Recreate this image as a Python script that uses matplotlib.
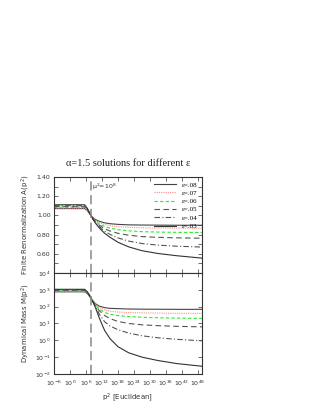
import numpy as np
import matplotlib
matplotlib.use('Agg')
import matplotlib.pyplot as plt
from matplotlib.ticker import FixedLocator, FuncFormatter, NullFormatter

# log10(p^2) sample points
log_p2 = [-6, 0, 4, 5.5, 6.5, 7.5, 8.5, 9.5, 11, 13, 15, 18, 22, 27, 33, 40, 49.5]

eps_labels = ['\u03b5=.08', '\u03b5=.07', '\u03b5=.06', '\u03b5=.05', '\u03b5=.04', '\u03b5=.03']

# A(p^2) for each epsilon
A_08 = [1.07, 1.07, 1.07, 1.07, 1.05, 1.01, 0.98, 0.957, 0.938, 0.922, 0.913, 0.906, 0.901, 0.899, 0.898, 0.897, 0.897]
A_07 = [1.075, 1.075, 1.075, 1.075, 1.052, 1.012, 0.977, 0.95, 0.925, 0.905, 0.893, 0.882, 0.875, 0.871, 0.868, 0.867, 0.866]
A_06 = [1.085, 1.085, 1.085, 1.085, 1.057, 1.013, 0.974, 0.942, 0.91, 0.883, 0.866, 0.851, 0.839, 0.83, 0.826, 0.823, 0.822]
A_05 = [1.09, 1.09, 1.09, 1.09, 1.062, 1.015, 0.97, 0.935, 0.897, 0.86, 0.837, 0.813, 0.793, 0.779, 0.771, 0.766, 0.762]
A_04 = [1.10, 1.10, 1.10, 1.10, 1.067, 1.017, 0.967, 0.928, 0.882, 0.835, 0.802, 0.765, 0.732, 0.707, 0.69, 0.679, 0.67]
A_03 = [1.11, 1.11, 1.11, 1.11, 1.072, 1.018, 0.963, 0.92, 0.868, 0.813, 0.772, 0.72, 0.672, 0.632, 0.603, 0.58, 0.555]

# log10 M(p^2) for each epsilon
logM_08 = [2.88, 2.88, 2.88, 2.88, 2.78, 2.58, 2.36, 2.18, 2.03, 1.94, 1.90, 1.88, 1.86, 1.85, 1.845, 1.84, 1.84]
logM_07 = [2.91, 2.91, 2.91, 2.91, 2.80, 2.59, 2.35, 2.14, 1.95, 1.80, 1.73, 1.68, 1.65, 1.63, 1.615, 1.605, 1.60]
logM_06 = [2.94, 2.94, 2.94, 2.94, 2.82, 2.60, 2.34, 2.10, 1.86, 1.65, 1.55, 1.47, 1.41, 1.37, 1.34, 1.32, 1.30]
logM_05 = [2.97, 2.97, 2.97, 2.97, 2.84, 2.61, 2.33, 2.06, 1.76, 1.47, 1.29, 1.12, 1.00, 0.92, 0.87, 0.83, 0.80]
logM_04 = [3.00, 3.00, 3.00, 3.00, 2.86, 2.62, 2.32, 2.01, 1.55, 1.10, 0.85, 0.63, 0.43, 0.27, 0.15, 0.06, -0.03]
logM_03 = [3.03, 3.03, 3.03, 3.03, 2.88, 2.63, 2.31, 1.96, 1.32, 0.58, 0.10, -0.38, -0.74, -1.00, -1.20, -1.38, -1.54]

A_all = [A_08, A_07, A_06, A_05, A_04, A_03]
M_all = [logM_08, logM_07, logM_06, logM_05, logM_04, logM_03]

styles = [
    dict(color='#444444', ls='-'),
    dict(color='#ff8c8c', ls=(0, (1, 1))),
    dict(color='#22f022', ls=(0, (3, 2))),
    dict(color='#555555', ls=(0, (5, 3))),
    dict(color='#555555', ls=(0, (5, 2, 1, 2))),
    dict(color='#333333', ls='-'),
]

mu2 = 1e8
x = 10.0 ** np.array(log_p2)

fig = plt.figure(figsize=(3.16, 4.09), dpi=100)
ax1 = fig.add_axes([0.171, 0.3325, 0.468, 0.235])
ax2 = fig.add_axes([0.171, 0.0856, 0.468, 0.247])

for vals, lab, st in zip(A_all, eps_labels, styles):
    ax1.plot(x, vals, lw=0.8, label=lab, **st)
for vals, st in zip(M_all, styles):
    ax2.plot(x, 10.0 ** np.array(vals), lw=0.8, **st)

for ax in (ax1, ax2):
    ax.set_xscale('log')
    ax.set_xlim(1e-6, 10 ** 49.5)
    ax.axvline(mu2, color='#888888', lw=1.1, ls=(0, (6, 3)))
    ax.xaxis.set_major_locator(FixedLocator([10.0 ** k for k in range(-6, 49, 6)]))
    ax.xaxis.set_minor_locator(FixedLocator([]))
    ax.tick_params(which='both', direction='in', top=True, right=True,
                   length=3, width=0.5, labelsize=4.5, colors='#333333')
    ax.tick_params(axis='y', pad=2.5)
    ax.tick_params(axis='x', pad=3.5)
    for s in ax.spines.values():
        s.set_linewidth(0.8)
        s.set_color('#333333')

ax1.set_ylim(0.4, 1.4)
ax1.set_yticks([0.6, 0.8, 1.0, 1.2, 1.4])
ax1.set_yticks([0.5, 0.7, 0.9, 1.1, 1.3], minor=True)
ax1.yaxis.set_major_formatter(FuncFormatter(lambda v, p: '%.2f' % v))
ax1.xaxis.set_major_formatter(NullFormatter())
ax1.set_ylabel('Finite Renormalization A(p$^2$)', fontsize=5, color='#333333')
ax1.yaxis.set_label_coords(-0.15, 0.5)
ax1.text(1.4e8, 1.30, '\u03bc$^2$=10$^8$', fontsize=4.5, color='#333333', va='center')
ax1.legend(loc='upper right', frameon=False, prop={'family': 'Liberation Serif', 'size': 5},
           handlelength=3.2, handletextpad=0.8, labelspacing=0.35, borderaxespad=0.3)

ax2.set_yscale('log')
ax2.set_ylim(1e-2, 1e4)
ax2.yaxis.set_major_locator(FixedLocator([10.0 ** k for k in range(-2, 5)]))
ax2.yaxis.set_minor_locator(FixedLocator([]))
ax2.set_ylabel('Dynamical Mass M(p$^2$)', fontsize=5, color='#333333')
ax2.yaxis.set_label_coords(-0.15, 0.5)
ax2.set_xlabel('p$^2$ [Euclidean]', fontsize=5, color='#333333', labelpad=2)

fig.text(0.405, 0.601, '\u03b1=1.5 solutions for different \u03b5', ha='center', va='center',
         fontsize=7.5, family='Liberation Serif', color='#222222')

fig.savefig('out.png', dpi=100)
